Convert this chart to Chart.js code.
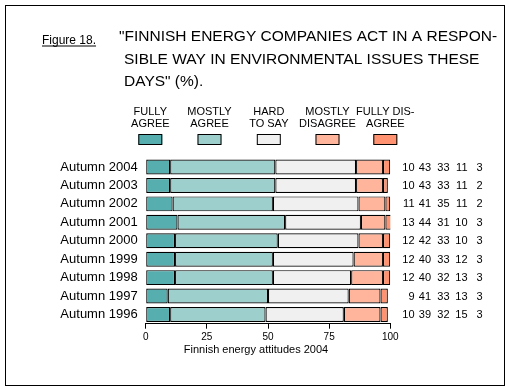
<!DOCTYPE html>
<html>
<head>
<meta charset="utf-8">
<script src="https://cdn.jsdelivr.net/npm/chart.js@4"></script>
<style>
html,body{margin:0;padding:0;background:#fff;}
#wrap{position:relative;width:509px;height:390px;}
</style>
</head>
<body>
<div id="wrap"><canvas id="c" width="509" height="390"></canvas></div>
<script>
const categories = ['Autumn 2004','Autumn 2003','Autumn 2002','Autumn 2001','Autumn 2000','Autumn 1999','Autumn 1998','Autumn 1997','Autumn 1996'];
const fullyAgree     = [10,10,11,13,12,12,12, 9,10];
const mostlyAgree    = [43,43,41,44,42,40,40,41,39];
const hardToSay      = [33,33,35,31,33,33,32,33,32];
const mostlyDisagree = [11,11,11,10,10,12,13,13,15];
const fullyDisagree  = [ 3, 2, 2, 3, 3, 3, 3, 3, 3];
const seriesNames = ['FULLY AGREE','MOSTLY AGREE','HARD TO SAY','MOSTLY DISAGREE','FULLY DISAGREE'];
const legendLines = [['FULLY','AGREE'],['MOSTLY','AGREE'],['HARD','TO SAY'],['MOSTLY','DISAGREE'],['FULLY DIS-','AGREE']];
const xTicks = [0,25,50,75,100];
const figureLabel = 'Figure 18.';
const titleLines = ['"FINNISH ENERGY COMPANIES ACT IN A RESPON-','SIBLE WAY IN ENVIRONMENTAL ISSUES THESE','DAYS" (%).'];
const xAxisTitle = 'Finnish energy attitudes 2004';

const colors = ['#56AFAE','#9DCFCC','#F0F0F0','#FFB59C','#FF9270'];
const allSeries = [fullyAgree, mostlyAgree, hardToSay, mostlyDisagree, fullyDisagree];

const FONT = 'Arial, "Liberation Sans", sans-serif';
const NARROW = '"Liberation Sans Narrow", "Arial Narrow", Arial, sans-serif';

const decor = {
  id: 'decor',
  afterDraw(chart) {
    const ctx = chart.ctx;
    ctx.save();
    // frame
    ctx.strokeStyle = '#000';
    ctx.lineWidth = 1;
    ctx.strokeRect(5.5, 5.5, 499, 380);
    // figure label
    ctx.fillStyle = '#000';
    ctx.textBaseline = 'alphabetic';
    ctx.textAlign = 'left';
    ctx.font = '12px ' + FONT;
    ctx.fillText(figureLabel, 42, 44);
    const fw = ctx.measureText(figureLabel).width;
    ctx.fillRect(42, 45.5, fw, 1);
    // title
    ctx.font = '15.5px ' + FONT;
    const w0 = ctx.measureText(titleLines[0]).width;
    const sx = Math.min(1, 381 / w0);
    ctx.save();
    ctx.translate(119, 0);
    ctx.scale(sx, 1);
    ctx.fillText(titleLines[0], 0, 41);
    ctx.fillText(titleLines[1], 5 / sx, 63.5);
    ctx.fillText(titleLines[2], 5 / sx, 85.5);
    ctx.restore();
    // legend
    const cx = [150.3, 209.5, 268.8, 327.5, 385.3];
    ctx.textAlign = 'center';
    ctx.font = '11px ' + NARROW;
    chart.data.datasets.forEach((ds, i) => {
      ctx.fillStyle = '#000';
      ctx.fillText(legendLines[i][0], cx[i], 115);
      ctx.fillText(legendLines[i][1], cx[i], 126.5);
      ctx.fillStyle = ds.backgroundColor;
      ctx.fillRect(cx[i] - 12, 134.5, 24, 10);
      ctx.strokeStyle = '#000';
      ctx.strokeRect(cx[i] - 12 + 0.5, 134.5, 23, 10);
    });
    // value columns
    const ys = chart.scales.y;
    const colX = [414.5, 431, 449.5, 467.5, 482.5];
    ctx.font = '11px ' + FONT;
    ctx.textAlign = 'right';
    ctx.textBaseline = 'middle';
    ctx.fillStyle = '#000';
    categories.forEach((c, r) => {
      const y = ys.getPixelForValue(r);
      chart.data.datasets.forEach((ds, i) => {
        ctx.fillText(String(ds.data[r]), colX[i], y + 0.5);
      });
    });
    // axis title
    ctx.textAlign = 'center';
    ctx.textBaseline = 'alphabetic';
    ctx.font = '11px ' + FONT;
    ctx.fillText(xAxisTitle, 256, 353);
    ctx.restore();
  }
};

new Chart(document.getElementById('c'), {
  type: 'bar',
  data: {
    labels: categories,
    datasets: allSeries.map((d, i) => ({
      label: seriesNames[i],
      data: d,
      backgroundColor: colors[i],
      borderColor: '#000',
      borderWidth: 1.2,
      borderSkipped: false,
      barPercentage: 0.81,
      categoryPercentage: 1
    }))
  },
  options: {
    indexAxis: 'y',
    responsive: false,
    animation: false,
    devicePixelRatio: 1,
    layout: { padding: { left: 0, right: 118.7, top: 157.8, bottom: 0 } },
    plugins: { legend: { display: false }, tooltip: { enabled: false }, title: { display: false } },
    scales: {
      x: {
        stacked: true,
        min: 0, max: 100,
        afterBuildTicks: (s) => { s.ticks = xTicks.map(v => ({ value: v })); },
        afterFit: (s) => { s.height = 390 - 323.7; },
        grid: { drawOnChartArea: false, drawTicks: true, tickLength: 5, color: '#000', lineWidth: 1 },
        border: { display: true, color: '#000', width: 1 },
        ticks: { color: '#000', font: { family: FONT, size: 10 }, padding: 3, maxRotation: 0 }
      },
      y: {
        stacked: true,
        afterFit: (s) => { s.width = 145.7; },
        grid: { display: false, drawTicks: false, tickLength: 0 },
        border: { display: false },
        ticks: { color: '#000', font: { family: FONT, size: 13 }, padding: 8, autoSkip: false }
      }
    }
  },
  plugins: [decor]
});
</script>
</body>
</html>
